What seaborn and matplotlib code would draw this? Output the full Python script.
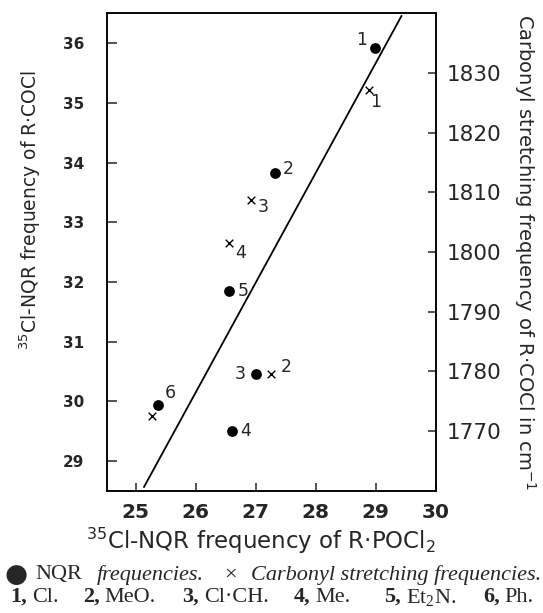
import matplotlib
matplotlib.use("Agg")
import matplotlib.pyplot as plt
import seaborn as sns

# NQR frequencies (filled dots), compounds 1-6
nqr_id = ['1', '2', '3', '4', '5', '6']
nqr_pocl2 = [28.98, 27.32, 27.00, 26.61, 26.56, 25.37]
nqr_cocl = [35.92, 33.83, 30.45, 29.50, 31.85, 29.94]

# carbonyl stretching frequencies (crosses), no value for 5
co_id = ['1', '2', '3', '4', '6']
co_pocl2 = [28.89, 27.26, 26.92, 26.56, 25.28]
co_freq = [1827.2, 1779.6, 1808.7, 1801.5, 1772.5]

# straight line drawn through the points
fit_x = [25.14, 29.43]
fit_y = [28.56, 36.46]

x_ticks = [25, 26, 27, 28, 29, 30]
y_ticks = [29, 30, 31, 32, 33, 34, 35, 36]
co_ticks = [1770, 1780, 1790, 1800, 1810, 1820, 1830]

substituents = ['Cl.', 'MeO.', 'Cl·CH.', 'Me.', 'Et$\\mathregular{_2}$N.', 'Ph.']

# label offsets (points) next to each marker
nqr_off = {'1': (-9, 5.5), '2': (10, 3), '3': (-11, 0), '4': (10, 0), '5': (10, 0), '6': (9, 8.5)}
co_off = {'1': (5, -9), '2': (11, 5), '3': (9, -5), '4': (8, -7), '6': (0, 0)}

sns.set_style("ticks")
plt.rcParams['font.family'] = ['DejaVu Sans']

fig = plt.figure(figsize=(5.43, 6.13), dpi=100)
ax = fig.add_axes([0.1965, 0.1995, 0.606, 0.7785])
ax2 = ax.twinx()

sns.lineplot(x=fit_x, y=fit_y, ax=ax, color='black', linewidth=1.3)
sns.scatterplot(x=nqr_pocl2, y=nqr_cocl, ax=ax, color='black', marker='o',
                s=60, linewidth=0, zorder=3)
sns.scatterplot(x=co_pocl2, y=co_freq, ax=ax2, color='black', marker='x',
                s=30, linewidth=1.0, zorder=3)

for lbl, x, y in zip(nqr_id, nqr_pocl2, nqr_cocl):
    ax.annotate(lbl, (x, y), xytext=nqr_off[lbl], textcoords='offset points',
                ha='center', va='center', fontsize=12.5)
for lbl, x, y in zip(co_id, co_pocl2, co_freq):
    if lbl == '6':
        continue
    ax2.annotate(lbl, (x, y), xytext=co_off[lbl], textcoords='offset points',
                 ha='center', va='center', fontsize=12.5)

ax.set_xlim(24.52, 30.0)
ax.set_ylim(28.5, 36.5)
ax2.set_ylim(1760, 1840)
ax.set_xticks(x_ticks)
ax.set_yticks(y_ticks)
ax2.set_yticks(co_ticks)

for a in (ax, ax2):
    for sp in a.spines.values():
        sp.set_linewidth(1.1)
        sp.set_color('black')

ax.tick_params(axis='x', direction='in', length=6, width=1.1, pad=9,
               labelsize=14.5, top=False)
ax.tick_params(axis='y', direction='in', length=7, width=1.1, pad=16,
               labelsize=11)
ax2.tick_params(axis='y', direction='in', length=6, width=1.1, pad=8,
                labelsize=15.5)
for t in ax.get_xticklabels() + ax.get_yticklabels():
    t.set_fontweight('bold')

ax.set_xlabel('$\\mathregular{^{35}}$Cl-NQR frequency of R·POCl$\\mathregular{_2}$',
              fontsize=16.5, va='center')
ax.xaxis.set_label_coords(0.47, -0.105)
ax.set_ylabel('$\\mathregular{^{35}}$Cl-NQR frequency of R·COCl', fontsize=13.5,
              va='center')
ax.yaxis.set_label_coords(-0.233, 0.588)
ax2.set_ylabel('Carbonyl stretching frequency of R·COCl in cm$\\mathregular{^{-1}}$',
               fontsize=14, rotation=-90, va='center')
ax2.yaxis.set_label_coords(1.27, 0.5)

# caption below the chart
serif = ['Liberation Serif', 'DejaVu Serif']
cy1 = 1 - 575 / 613
cy2 = 1 - 597 / 613
fig.text(5 / 543, cy1, '●', fontsize=19, family=['DejaVu Sans'], va='center')
fig.text(35 / 543, cy1, 'NQR', fontsize=16, family=serif, va='center')
fig.text(97 / 543, cy1, 'frequencies.', fontsize=16, family=serif,
         style='italic', va='center')
fig.text(224 / 543, cy1, '×', fontsize=16, family=serif, va='center')
fig.text(251 / 543, cy1, 'Carbonyl stretching frequencies.', fontsize=16,
         family=serif, style='italic', va='center')

fig.canvas.draw()
renderer = fig.canvas.get_renderer()
line2_x = [10, 83, 182, 294, 384, 483]
for i, (name, xp) in enumerate(zip(substituents, line2_x)):
    num = fig.text(xp / 543, cy2, f'{i + 1},', fontsize=16, family=serif,
                   weight='bold', va='center')
    w = num.get_window_extent(renderer).width
    fig.text((xp + w + 5) / 543, cy2, name, fontsize=16, family=serif,
             va='center')

fig.savefig('out.png', dpi=100)
